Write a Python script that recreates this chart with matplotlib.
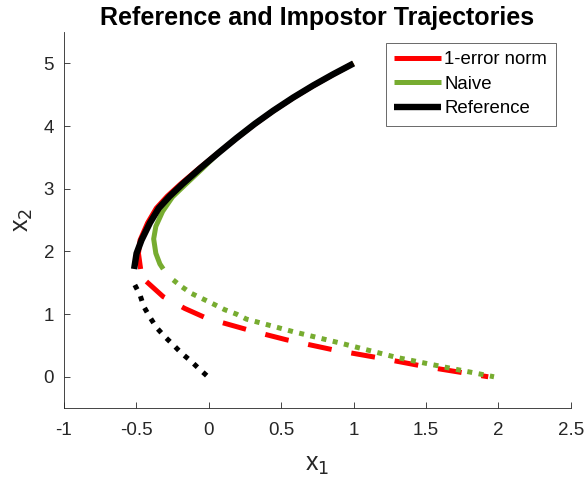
import matplotlib
matplotlib.use("Agg")
import matplotlib.pyplot as plt

# Trajetoria de referencia (parte continua e parte pontilhada)
ref_x = [1.0, 0.859, 0.721, 0.583, 0.445, 0.318, 0.19, 0.07, -0.06, -0.18,
         -0.27, -0.345, -0.406, -0.464, -0.498, -0.515]
ref_y = [5.0, 4.828, 4.649, 4.456, 4.246, 4.036, 3.806, 3.578, 3.325, 3.079,
         2.88, 2.69, 2.455, 2.18, 1.97, 1.72]
ref_tail_x = [-0.51, -0.475, -0.448, -0.406, -0.36, -0.303, -0.245, -0.188,
              -0.125, -0.066, -0.005]
ref_tail_y = [1.465, 1.31, 1.12, 0.95, 0.785, 0.64, 0.51, 0.377, 0.255,
              0.127, 0.0]

# 1-error norm
err_x = [1.0, 0.859, 0.721, 0.583, 0.445, 0.318, 0.19, 0.065, -0.07, -0.195,
         -0.287, -0.362, -0.422, -0.474, -0.485, -0.47]
err_y = [5.0, 4.824, 4.644, 4.451, 4.241, 4.031, 3.801, 3.573, 3.32, 3.075,
         2.88, 2.69, 2.455, 2.18, 1.97, 1.72]
err_tail_x = [-0.43, -0.315, -0.165, -0.015, 0.146, 0.30, 0.537, 0.86,
              1.18, 1.50, 1.93]
err_tail_y = [1.52, 1.28, 1.09, 0.935, 0.83, 0.73, 0.59, 0.43, 0.30,
              0.16, 0.0]

# Naive
naive_x = [1.0, 0.859, 0.721, 0.583, 0.445, 0.318, 0.19, 0.07, -0.04, -0.16,
           -0.25, -0.318, -0.365, -0.38, -0.365, -0.337, -0.314]
naive_y = [5.0, 4.828, 4.649, 4.456, 4.246, 4.036, 3.806, 3.578, 3.33, 3.07,
           2.87, 2.64, 2.40, 2.20, 1.97, 1.80, 1.72]
naive_tail_x = [-0.245, -0.188, -0.119, -0.038, 0.042, 0.111, 0.192,
                0.261, 0.583, 0.905, 1.295, 1.617, 1.97]
naive_tail_y = [1.545, 1.44, 1.33, 1.24, 1.15, 1.07, 1.00, 0.92, 0.72,
                0.54, 0.31, 0.16, 0.0]

x_ticks = [-1, -0.5, 0, 0.5, 1, 1.5, 2, 2.5]
x_tick_labels = ['-1', '-0.5', '0', '0.5', '1', '1.5', '2', '2.5']
y_ticks = [0, 1, 2, 3, 4, 5]

plt.rcParams['font.family'] = ['Liberation Sans', 'DejaVu Sans']

fig = plt.figure(figsize=(5.86, 4.87), dpi=100)
ax = fig.add_axes([0.109, 0.162, 0.865, 0.772])

red = '#ff0000'
green = '#77ac30'
black = '#000000'

ax.plot(err_x, err_y, color=red, lw=3.6, solid_capstyle='butt',
        solid_joinstyle='round', label='1-error norm')
ax.plot(naive_x, naive_y, color=green, lw=3.6, solid_capstyle='butt',
        solid_joinstyle='round', label='Naive')
ax.plot(ref_x, ref_y, color=black, lw=4.6, solid_capstyle='butt',
        solid_joinstyle='round', label='Reference')

ax.plot(err_tail_x, err_tail_y, color=red, lw=3.6, linestyle=(0, (4.8, 4.0)),
        dash_capstyle='butt')
ax.plot(naive_tail_x, naive_tail_y, color=green, lw=3.6,
        linestyle=(0, (1, 1.3)), dash_capstyle='butt')
ax.plot(ref_tail_x, ref_tail_y, color=black, lw=3.6, linestyle=(0, (1, 1.5)),
        dash_capstyle='butt')

ax.set_xlim(-1, 2.5)
ax.set_ylim(-0.5, 5.5)
ax.set_xticks(x_ticks)
ax.set_xticklabels(x_tick_labels)
ax.set_yticks(y_ticks)

for s in ['top', 'right']:
    ax.spines[s].set_visible(False)
for s in ['left', 'bottom']:
    ax.spines[s].set_color('#262626')
    ax.spines[s].set_linewidth(0.6)
ax.tick_params(direction='in', length=4, width=0.6, colors='#262626',
               labelsize=13.5)
ax.tick_params(axis='x', pad=10)
ax.tick_params(axis='y', pad=7)

ax.set_xlabel('x$_1$', fontsize=18, color='#262626', labelpad=10)
ax.set_ylabel('x$_2$', fontsize=18, color='#262626', labelpad=6)
ax.set_title('Reference and Impostor Trajectories', fontsize=18,
             fontweight='bold', pad=5)

leg = ax.legend(loc='upper right', bbox_to_anchor=(0.97, 0.971), fontsize=13.4,
                frameon=True, fancybox=False, handlelength=2.5,
                handletextpad=0.2, borderpad=0.45, labelspacing=0.4,
                borderaxespad=0.0)
leg.get_frame().set_edgecolor('#262626')
leg.get_frame().set_linewidth(0.6)

fig.savefig('out.png', dpi=100)
